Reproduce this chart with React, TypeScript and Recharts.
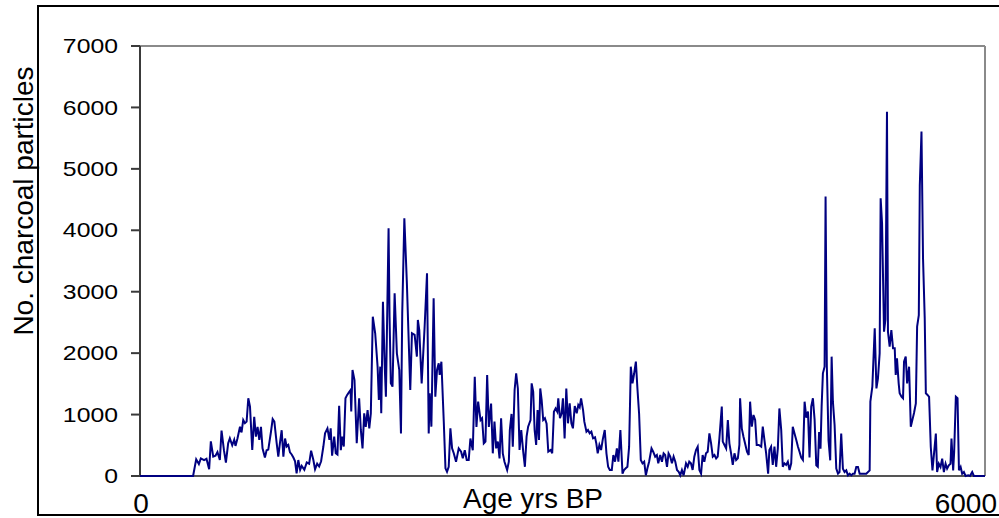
import { LineChart, Line, XAxis, YAxis, ReferenceLine } from "recharts";

// age (yrs BP) of each sample
const ages = [
  0, 377, 399, 418, 432, 455, 472, 491, 503, 520, 536, 550, 567, 579, 596, 610, 626, 638, 655, 669,
  678, 692, 710, 721, 733, 745, 757, 769, 781, 797, 811, 823, 835, 847, 859, 870, 887, 899, 911, 930,
  942, 954, 970, 982, 994, 1006, 1018, 1030, 1041, 1053, 1065, 1077, 1089, 1101, 1112, 1124, 1137, 1148, 1167, 1184,
  1201, 1215, 1231, 1243, 1258, 1272, 1286, 1302, 1314, 1331, 1345, 1354, 1364, 1379, 1390, 1402, 1414, 1426, 1435, 1447,
  1459, 1471, 1480, 1495, 1500, 1509, 1523, 1539, 1556, 1568, 1580, 1592, 1603, 1616, 1628, 1639, 1653, 1670, 1687, 1696,
  1706, 1713, 1725, 1737, 1746, 1765, 1772, 1781, 1793, 1808, 1824, 1841, 1853, 1862, 1877, 1895, 1907, 1919, 1931, 1950,
  1966, 1973, 1983, 2000, 2021, 2038, 2050, 2057, 2069, 2085, 2097, 2109, 2121, 2128, 2140, 2157, 2169, 2180, 2192, 2204,
  2216, 2228, 2244, 2263, 2280, 2292, 2306, 2320, 2334, 2346, 2363, 2377, 2389, 2401, 2418, 2429, 2441, 2453, 2465, 2477,
  2493, 2505, 2517, 2529, 2541, 2553, 2564, 2576, 2588, 2607, 2619, 2626, 2638, 2647, 2660, 2671, 2683, 2695, 2707, 2721,
  2733, 2745, 2756, 2773, 2781, 2792, 2802, 2813, 2823, 2833, 2842, 2852, 2863, 2875, 2887, 2899, 2916, 2927, 2939, 2951,
  2963, 2970, 2982, 2994, 3003, 3015, 3027, 3039, 3051, 3063, 3074, 3087, 3101, 3112, 3122, 3132, 3146, 3155, 3170, 3181,
  3193, 3205, 3217, 3231, 3240, 3250, 3262, 3274, 3286, 3300, 3312, 3324, 3336, 3350, 3361, 3373, 3386, 3397, 3411, 3426,
  3437, 3449, 3461, 3473, 3485, 3497, 3509, 3521, 3532, 3544, 3556, 3568, 3580, 3592, 3603, 3615, 3632, 3644, 3658, 3670,
  3680, 3694, 3706, 3718, 3729, 3742, 3753, 3765, 3777, 3789, 3801, 3813, 3825, 3836, 3848, 3860, 3877, 3889, 3900, 3912,
  3924, 3936, 3948, 3960, 3972, 3984, 3995, 4007, 4019, 4031, 4043, 4055, 4067, 4079, 4091, 4102, 4114, 4131, 4138, 4150,
  4162, 4174, 4185, 4197, 4209, 4221, 4233, 4245, 4256, 4261, 4273, 4285, 4296, 4310, 4322, 4332, 4344, 4356, 4368, 4379,
  4394, 4411, 4422, 4434, 4446, 4460, 4469, 4481, 4493, 4505, 4517, 4529, 4540, 4553, 4564, 4576, 4588, 4600, 4612, 4624,
  4635, 4647, 4660, 4672, 4683, 4695, 4707, 4719, 4731, 4743, 4754, 4766, 4778, 4790, 4802, 4813, 4822, 4832, 4840, 4849,
  4861, 4868, 4877, 4889, 4901, 4911, 4920, 4932, 4944, 4956, 4967, 4979, 4991, 5003, 5015, 5027, 5039, 5051, 5062, 5074,
  5086, 5098, 5110, 5133, 5157, 5181, 5186, 5200, 5217, 5229, 5240, 5252, 5259, 5269, 5283, 5293, 5304, 5311, 5323, 5335,
  5347, 5359, 5366, 5375, 5387, 5394, 5407, 5418, 5425, 5437, 5447, 5461, 5473, 5485, 5496, 5509, 5518, 5530, 5537, 5549,
  5560, 5572, 5580, 5592, 5603, 5615, 5627, 5639, 5651, 5660, 5672, 5684, 5696, 5708, 5720, 5731, 5743, 5755, 5762, 5774,
  5781, 5793, 5805, 5815, 5827, 5838, 5850, 5862, 5881, 5893, 5909, 5921, 6000,
];

// number of charcoal particles per sample
const charcoal = [
  0, 0, 272, 195, 288, 260, 280, 109, 565, 315, 330, 390, 260, 738, 420, 217, 532, 613, 500, 590,
  490, 610, 803, 710, 912, 860, 885, 1265, 1130, 423, 965, 640, 800, 590, 800, 450, 300, 420, 430, 720,
  928, 885, 545, 315, 545, 745, 315, 610, 480, 505, 385, 350, 300, 240, 43, 260, 100, 165, 100, 220,
  200, 412, 260, 110, 200, 155, 240, 480, 694, 775, 590, 775, 330, 640, 370, 350, 1145, 420, 640, 480,
  1265, 1320, 1350, 1400, 1050, 1726, 1560, 532, 1265, 750, 450, 1020, 800, 1074, 775, 1020, 2593, 2323, 1780, 1237,
  1780, 1020, 2838, 1830, 1290, 4033, 2593, 1508, 1455, 2974, 1997, 1726, 694, 2648, 4195, 3137, 2270, 1400, 2323, 2296,
  1943, 2540, 2377, 1508, 2430, 3300, 694, 1346, 803, 2893, 1290, 1726, 1834, 1645, 1860, 884, 125, 70, 150, 776,
  450, 370, 230, 450, 396, 290, 420, 260, 260, 610, 420, 1617, 800, 1210, 910, 940, 530, 560, 1645, 800,
  1180, 369, 885, 450, 560, 287, 939, 369, 233, 98, 233, 749, 1010, 477, 1400, 1672, 1425, 423, 749, 396,
  150, 640, 803, 912, 1509, 1370, 749, 505, 1074, 586, 1425, 1235, 912, 940, 850, 396, 423, 369, 1047, 1100,
  1047, 1265, 940, 1020, 1265, 613, 1425, 858, 1183, 858, 776, 1140, 1020, 1155, 1117, 1265, 1074, 885, 722, 749,
  695, 722, 613, 630, 532, 369, 505, 423, 597, 749, 369, 150, 98, 98, 342, 233, 450, 233, 749, 38,
  98, 125, 150, 477, 1780, 1509, 1672, 1861, 1425, 1010, 260, 206, 233, 10, 125, 233, 450, 396, 315, 342,
  206, 342, 233, 369, 342, 150, 369, 315, 206, 315, 233, 98, 70, 10, 98, 10, 206, 150, 233, 206,
  98, 315, 423, 477, 98, 38, 342, 233, 369, 396, 695, 532, 315, 342, 287, 315, 613, 1129, 560, 505,
  450, 912, 532, 369, 180, 369, 260, 287, 505, 1265, 776, 640, 532, 396, 342, 1210, 803, 993, 912, 505,
  505, 477, 803, 586, 369, 38, 423, 477, 180, 477, 150, 450, 1100, 749, 150, 206, 180, 233, 98, 206,
  803, 695, 586, 477, 396, 300, 260, 1210, 950, 1050, 300, 1129, 1265, 918, 174, 150, 716, 445, 1129, 1672,
  1780, 4548, 1780, 580, 255, 1943, 1210, 830, 120, 38, 65, 690, 120, 65, 92, 10, 38, 10, 38, 38,
  147, 147, 38, 38, 38, 92, 1210, 1453, 2404, 1425, 1590, 1997, 4521, 4114, 2350, 2550, 5931, 2350, 2105, 2377,
  2079, 2079, 1645, 1915, 1508, 1346, 1290, 1265, 1861, 1943, 1508, 1780, 803, 918, 1025, 1183, 2431, 2620, 4730, 5606,
  3540, 2567, 1346, 1320, 1290, 472, 92, 390, 690, 65, 200, 147, 282, 65, 200, 120, 174, 200, 608, 92,
  390, 1290, 1265, 92, 147, 38, 65, 0, 10, 0, 65, 0, 0,
];

const yTicks = [0, 1000, 2000, 3000, 4000, 5000, 6000, 7000];
const xTicks = [0, 6000];
const xTitle = "Age yrs BP";
const yTitle = "No. charcoal particles";

const data = ages.map((age, i) => ({ age, count: charcoal[i] }));

const FONT = '"Liberation Sans", Arial, sans-serif';

function YTick({ x, y, payload }: any) {
  return (
    <g transform={`translate(${x},${y})`}>
      <text transform="scale(1.24,1)" textAnchor="end" dy="0.36em" fontSize={20} fontFamily={FONT} fill="#000">
        {payload.value}
      </text>
    </g>
  );
}

function XTick({ x, y, payload, index }: any) {
  const last = index === xTicks.length - 1;
  return (
    <text
      x={x}
      y={y}
      dx={last ? 14 : 1}
      dy={37}
      textAnchor={last ? "end" : "middle"}
      fontSize={28}
      fontFamily={FONT}
      fill="#000"
    >
      {payload.value}
    </text>
  );
}

function YTitle() {
  return (
    <text x={33} y={201} transform="rotate(-90 33 201)" textAnchor="middle" fontSize={28} fontFamily={FONT} fill="#000">
      {yTitle}
    </text>
  );
}

function XTitle() {
  return (
    <text x={533} y={508} textAnchor="middle" fontSize={28} fontFamily={FONT} fill="#000">
      {xTitle}
    </text>
  );
}

export default function App() {
  return (
    <div style={{ position: "absolute", left: 0, top: 0, width: 999, height: 518, background: "#fff", overflow: "hidden" }}>
      <div
        style={{
          position: "absolute",
          left: 37,
          top: 5,
          width: 1000,
          height: 511,
          border: "2px solid #000",
          boxSizing: "border-box",
        }}
      />
      <div style={{ position: "absolute", left: 0, top: 0 }}>
        <LineChart width={999} height={518} data={data} margin={{ top: 46, right: 14, bottom: 0, left: 40 }}>
          <ReferenceLine y={7000} stroke="#8a8a8a" strokeWidth={2} />
          <ReferenceLine x={6000} stroke="#8a8a8a" strokeWidth={2} />
          <XAxis
            dataKey="age"
            type="number"
            domain={[0, 6000]}
            ticks={xTicks}
            tickLine={false}
            tickSize={0}
            tickMargin={0}
            height={42}
            stroke="#555"
            strokeWidth={2}
            tick={<XTick />}
            label={<XTitle />}
          />
          <YAxis
            type="number"
            domain={[0, 7000]}
            ticks={yTicks}
            width={100}
            tickSize={9}
            tickMargin={13}
            stroke="#3a3a3a"
            strokeWidth={2}
            tick={<YTick />}
            label={<YTitle />}
          />
          <Line
            type="linear"
            dataKey="count"
            stroke="#000080"
            strokeWidth={2}
            dot={false}
            zIndex={600}
            isAnimationActive={false}
          />
        </LineChart>
      </div>
    </div>
  );
}
